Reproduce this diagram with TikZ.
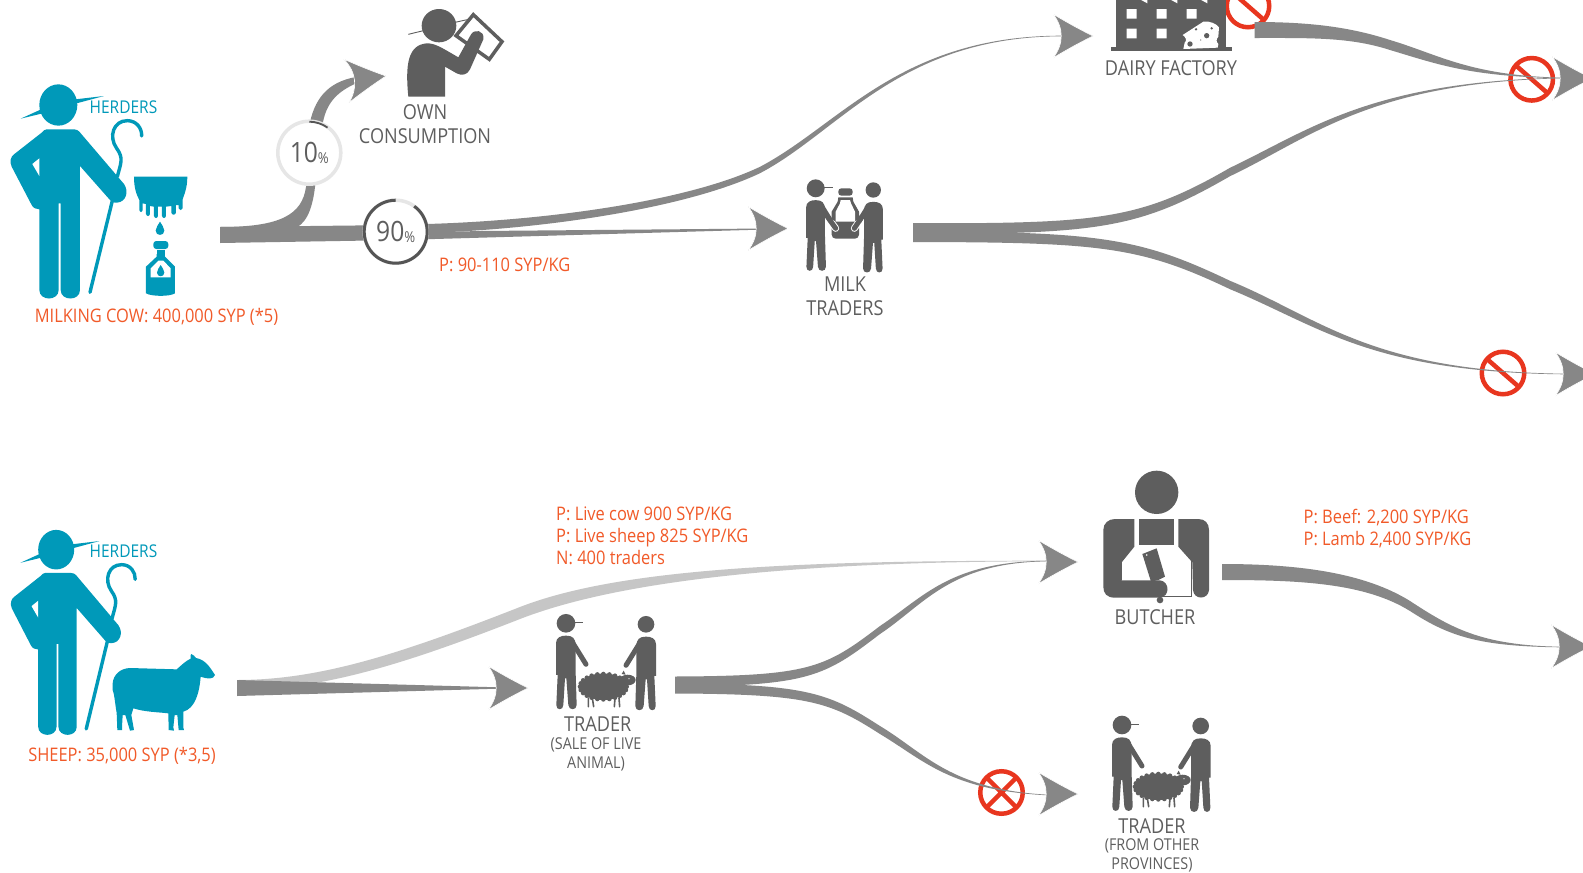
\documentclass[tikz,border=0pt]{standalone}
\usepackage{fontspec}
\setmainfont[FakeStretch=0.88]{Open Sans}
\usetikzlibrary{calc}
\definecolor{flowgray}{HTML}{878787}
\definecolor{lightflow}{HTML}{C6C6C6}
\definecolor{icongray}{HTML}{5E5E5E}
\definecolor{teal}{HTML}{0099B9}
\definecolor{orangetxt}{HTML}{F15A29}
\definecolor{redsign}{HTML}{E8361F}
\definecolor{ringlight}{HTML}{E6E6E6}
\definecolor{ringdark}{HTML}{555555}
\tikzset{
 flowfill/.style={fill=flowgray},
 lbl/.style={text=icongray,font=\fontsize{20.6}{24}\selectfont,align=center,inner sep=0pt},
 sublbl/.style={text=icongray,font=\fontsize{16.3}{19}\selectfont,align=center,inner sep=0pt},
 price/.style={text=orangetxt,font=\fontsize{18.7}{22}\selectfont,align=left,inner sep=0pt},
 herd/.style={text=teal,font=\fontsize{17.6}{20}\selectfont,inner sep=0pt},
 pct/.style={circle,fill=white,minimum size=63pt,inner sep=0pt,line width=3.5pt,text=icongray},
 signring/.style={draw=redsign,line width=4.5pt},
}
% tapered band, two segments: start, c1, c2, mid, c3, c4, end, half width at start, half width at mid
\newcommand\flow[9]{\fill[flowfill] ($#1+(0,-#8)$) .. controls ($#2+(0,-#8)$) and ($#3+(0,-#9)$) .. ($#4+(0,-#9)$) .. controls ($#5+(0,-#9)$) and ($#6+(0,-0.4)$) .. ($#7+(0,-0.3)$) -- ($#7+(0,0.3)$) .. controls ($#6+(0,0.4)$) and ($#5+(0,#9)$) .. ($#4+(0,#9)$) .. controls ($#3+(0,#9)$) and ($#2+(0,#8)$) .. ($#1+(0,#8)$) -- cycle;}
\newcommand\headtip[3]{\coordinate (#1) at (#2);
 \begin{scope}[shift={(#2)},rotate=#3]
 \fill[flowgray,draw=white,line width=.6pt] (0,0) .. controls (-18,-9) and (-30,-16) .. (-40,-22) .. controls (-29,-8) and (-29,8) .. (-40,22) .. controls (-30,16) and (-18,9) .. (0,0) -- cycle;
 \end{scope}}
\newcommand\nosign[2]{\node[circle,signring,minimum size=42.5pt,inner sep=0pt] (#1) at (#2) {};
 \draw[redsign,line width=4.5pt] ($(#1)+(-16,-14)$) -- ($(#1)+(16,14)$);}
\newcommand\xsign[2]{\node[circle,signring,minimum size=42.5pt,inner sep=0pt] (#1) at (#2) {};
 \draw[redsign,line width=4.5pt] ($(#1)+(-15,-15)$) -- ($(#1)+(15,15)$) ($(#1)+(15,-15)$) -- ($(#1)+(-15,15)$);}
\newcommand\drop{\fill (0,-20) .. controls (5,-10) and (13,-3) .. (13,7) .. controls (13,24) and (-13,24) .. (-13,7) .. controls (-13,-3) and (-5,-10) .. (0,-20) -- cycle;}
% herder, in coordinates three times the size of the drawing
\newcommand\herder{
 \begin{scope}[fill=teal]
 \fill (175,135) ellipse [x radius=57,y radius=62];
 \fill (62,176) -- (128,146) -- (128,160) -- cycle;
 \fill (226,118) -- (312,108) -- (226,131) -- cycle;
 \fill (140,208) -- (222,208) .. controls (230,208) and (234,211) .. (238,215) -- (372,372) .. controls (388,395) and (378,427) .. (350,428) .. controls (338,428) and (335,425) .. (330,420) -- (240,318) -- (240,690) .. controls (240,724) and (182,724) .. (182,690) -- (182,430) -- (176,430) -- (176,690) .. controls (176,724) and (118,724) .. (118,690) -- (118,448) -- (105,445) .. controls (100,443) and (97,439) .. (95,435) -- (35,320) .. controls (28,305) and (32,290) .. (42,283) -- (125,218) .. controls (130,212) and (135,208) .. (140,208) -- cycle;
 \fill[white] (97,312) -- (118,295) -- (118,348) -- cycle;
 \draw[teal,line width=3.4pt,line cap=round] (270,697) -- (340,410);
 \draw[teal,line width=3.4pt,line cap=round] (352,350) .. controls (362,310) and (372,295) .. (350,265) .. controls (325,230) and (340,182) .. (382,182) .. controls (410,182) and (426,205) .. (425,228);
 \end{scope}}
\newcommand\man[3]{% xscale, yscale, head radius
 \begin{scope}[xscale=#1,yscale=#2,fill=icongray]
 \fill (0,0) circle (#3);
 \fill (-30,155) -- (-30,60) .. controls (-30,42) and (-15,37) .. (0,37) .. controls (20,37) and (28,45) .. (29,65) -- (29,150) -- (32,245) .. controls (32,262) and (8,262) .. (7,245) -- (1,165) -- (-3,165) -- (-8,245) .. controls (-8,262) and (-30,262) .. (-29,245) -- (-25,155) -- cycle;
 \draw[icongray,line width=5pt,line cap=round] (18,55) -- (60,123);
 \end{scope}}
\newcommand\capbrim{\draw[icongray,line width=.8pt] (0,-1) -- (17,-1);}
\newcommand\woolly{
 \begin{scope}[scale=1/3,fill=icongray]
 \fill (-5,0) ellipse [x radius=70,y radius=40];
 \foreach \a in {0,15,...,345} {\fill ({-5+70*cos(\a)},{38*sin(\a)}) circle (7);}
 \fill (68,-20) ellipse [x radius=24,y radius=16];
 \fill (50,-38) -- (56,-48) -- (62,-36) -- cycle;
 \draw[icongray,line width=1.6pt,line cap=round] (-50,34) -- (-50,60) (-38,34) -- (-34,60) (30,34) -- (28,60) (42,34) -- (44,60);
 \fill[white] (72,-24) circle (2);
 \end{scope}}
\begin{document}
\begin{tikzpicture}[x=1pt,y=-1pt]
\useasboundingbox (0,0) rectangle (1583,873);
\clip (0,0) rectangle (1583,873);
\fill[white] (0,0) rectangle (1583,873);

%% ---- HERDER 1
\begin{scope}[shift={(0,60)},scale=1/3]
 \herder
 \begin{scope}[fill=teal]
 \fill (402,350) -- (562,350) .. controls (562,385) and (552,405) .. (548,418) -- (548,445) .. controls (546,452) and (538,452) .. (536,445) -- (536,435) -- (528,435) -- (528,458) .. controls (526,466) and (516,466) .. (514,458) -- (514,438) -- (498,440) -- (498,468) .. controls (496,476) and (488,476) .. (486,468) -- (486,440) -- (474,440) -- (474,468) .. controls (472,476) and (464,476) .. (462,468) -- (462,440) -- (450,438) -- (450,462) .. controls (448,470) and (440,470) .. (438,462) -- (438,432) -- (428,430) -- (428,450) .. controls (426,458) and (420,458) .. (418,450) -- (418,420) .. controls (410,405) and (402,385) .. (402,350) -- cycle;
 \begin{scope}[shift={(480,505)}]\drop\end{scope}
 \fill[rounded corners=3pt] (460,543) rectangle (505,567);
 \fill (470,570) rectangle (495,582);
 \fill (470,582) -- (495,582) -- (495,590) -- (525,620) -- (525,700) .. controls (510,710) and (455,710) .. (438,700) -- (438,620) -- (470,590) -- cycle;
 \fill[white] (452,652) -- (512,652) -- (512,625) -- (490,602) -- (475,602) -- (452,625) -- cycle;
 \begin{scope}[shift={(482,632)},scale=.85]\drop\end{scope}
 \end{scope}
\end{scope}

%% ---- HERDER 2
\begin{scope}[shift={(0.9,506.6)},xscale=.316,yscale=.319]
 \herder
\end{scope}
% blue sheep
\begin{scope}[shift={(100,640)},scale=1/3]
 \fill[teal] (38,130) .. controls (40,105) and (60,85) .. (90,84) -- (230,88) .. controls (245,75) and (258,62) .. (272,56) .. controls (270,48) and (272,42) .. (274,42) .. controls (280,44) and (285,50) .. (288,54) .. controls (318,58) and (335,90) .. (345,105) .. controls (340,118) and (325,118) .. (302,110) .. controls (298,160) and (285,205) .. (250,215) -- (250,262) -- (252,270) -- (236,270) -- (232,225) -- (224,225) -- (220,262) -- (222,272) -- (206,270) -- (205,220) .. controls (170,216) and (135,216) .. (100,205) -- (94,225) -- (102,270) -- (90,272) -- (76,225) -- (68,225) -- (66,262) -- (66,270) -- (52,270) -- (50,218) .. controls (46,200) and (44,165) .. (38,150) -- cycle;
\end{scope}

%% ---- RED SIGNS (beneath the flows)
\nosign{sa}{1248,6}
\nosign{sb}{1531.7,79.3}
\nosign{sc}{1503,373}
\xsign{sd}{1001.5,792.5}

%% ---- END POINTS
\coordinate (m0) at (220,235);
\coordinate (m2) at (400,229);
\coordinate (endDairy) at (1062,36);
\coordinate (t1) at (913,228.5);
\coordinate (t2) at (913,236.7);
\coordinate (endTop) at (1562,78);
\coordinate (endLow) at (1565,374);
\coordinate (d0) at (1254.5,30);
\coordinate (s1) at (237,685);
\coordinate (endB) at (1048,561);
\coordinate (endC) at (1048,795);
\coordinate (u1) at (675,681.5);
\coordinate (u2) at (675,688.5);
\coordinate (b0) at (1222,572);
\coordinate (endR) at (1561,647);

%% ---- MILK FLOWS
\fill[flowfill] (220,227) -- (400,225) -- (400,240) -- (220,243) -- cycle;
\fill[flowfill] (220,227) .. controls (280,227) and (302,215) .. (306,187) -- (310,122) .. controls (316,96) and (330,80) .. (362,76) -- (362,81) .. controls (338,90) and (327,102) .. (323,122) -- (315,187) .. controls (312,212) and (305,225) .. (293,229) -- (220,229) -- cycle;
\fill[flowfill] (400,233) -- (480,231) -- (765,228.5) -- (765,229.5) -- (400,240) -- cycle;
\flow{(m2)}{(520,228)}{(680,208)}{(760,170)}{(840,128)}{(900,36)}{(endDairy)}{4.5}{3.2}
\flow{(t1)}{(1100,229)}{(1140,224)}{(1230,172)}{(1310,134)}{(1370,82)}{(endTop)}{5.3}{4.2}
\flow{(t2)}{(1100,237)}{(1140,242)}{(1230,285)}{(1320,322)}{(1370,372)}{(endLow)}{5.3}{4.2}
\flow{(d0)}{(1310,30)}{(1350,32)}{(1390,45)}{(1440,60)}{(1470,76)}{(endTop)}{8}{5}

%% ---- ANIMAL FLOWS
\begin{scope}[flowfill/.style={fill=lightflow}]
\flow{(s1)}{(320,685)}{(400,660)}{(520,613)}{(620,574)}{(800,561)}{(endB)}{5}{6}
\end{scope}
\fill[flowfill] (237,680) -- (505,687.5) -- (505,688.5) -- (237,696) -- cycle;
\flow{(u1)}{(810,681)}{(825,672)}{(880,630)}{(925,600)}{(950,562)}{(endB)}{5}{4}
\flow{(u2)}{(810,689)}{(830,698)}{(880,730)}{(925,757)}{(950,790)}{(endC)}{5}{4}
\flow{(b0)}{(1300,572)}{(1365,578)}{(1410,606)}{(1450,632)}{(1480,646)}{(endR)}{8}{5}

%% ---- ARROW HEADS
\headtip{a1}{386,76}{7}
\headtip{a2}{1093,36}{0}
\headtip{a3}{788,228.5}{0}
\headtip{a4}{1592,78.5}{0}
\headtip{a5}{1595,374}{0}
\headtip{a6}{528,688}{0}
\headtip{a7}{1078,562}{0}
\headtip{a8}{1078,794}{0}
\headtip{a9}{1591,646.5}{0}

%% ---- PERCENT RINGS (y axis points down, so angles run clockwise on the page)
\node[pct,draw=ringlight] (p10) at (309.3,152.7) {\fontsize{28}{28}\selectfont 10\fontsize{15}{15}\selectfont\raisebox{-.5pt}{\%}};
\draw[ringdark,line width=1.8pt] ($(p10)+(0,-31)$) arc [start angle=-90,end angle=-54,radius=31];
\node[pct,draw=ringlight] (p90) at (395.7,231.7) {\fontsize{28}{28}\selectfont 90\fontsize{15}{15}\selectfont\raisebox{-.5pt}{\%}};
\draw[ringdark,line width=3pt] ($(p90)+({31.5*cos(54)},{-31.5*sin(54)})$) arc [start angle=-54,end angle=270,radius=31.5];

%% ---- OWN CONSUMPTION ICON
\begin{scope}[shift={(390,0)},scale=1/3]
 \fill[icongray] (147,77) ellipse [x radius=52,y radius=50];
 \draw[icongray,line width=.9pt] (55,103) -- (100,92) (195,67) -- (250,55);
 \draw[icongray,line width=3.5pt,line join=miter,fill=white] (250,44) -- (336,125) -- (298,178) -- (198,107) -- cycle;
 \fill[icongray] (55,290) .. controls (45,190) and (55,135) .. (110,130) .. controls (135,130) and (150,140) .. (205,172) -- (242,105) .. controls (252,85) and (285,90) .. (280,118) -- (240,208) .. controls (232,225) and (215,228) .. (200,220) -- (165,200) -- (165,290) -- cycle;
\end{scope}
\node[lbl] (own) at (425,124) {OWN\\CONSUMPTION};

%% ---- DAIRY FACTORY ICON
\begin{scope}[shift={(1090,0)},scale=1/3]
 \fill[icongray] (78,-10) rectangle (408,142);
 \fill[icongray] (62,140) rectangle (425,153);
 \fill[white] (150,-2) -- (172,10) -- (172,-2) -- cycle (240,-2) -- (262,10) -- (262,-2) -- cycle (330,-2) -- (352,10) -- (352,-2) -- cycle;
 \fill[white] (110,27) rectangle (140,56) (200,27) rectangle (230,56) (290,27) rectangle (320,56) (110,86) rectangle (140,115) (200,86) rectangle (230,115);
 \fill[white] (278,105) -- (340,65) .. controls (360,62) and (380,72) .. (387,82) -- (385,110) .. controls (378,118) and (378,125) .. (385,132) -- (383,143) -- (280,147) -- (284,128) .. controls (292,122) and (288,112) .. (278,105) -- cycle;
 \fill[icongray] (300,132) circle (8) (350,107) circle (8) (318,88) circle (4) (365,85) circle (4) (332,120) circle (2);
\end{scope}
\node[lbl] (dairy) at (1171,68) {DAIRY FACTORY};

%% ---- MILK TRADERS ICON
\begin{scope}[shift={(815.7,188.3)}]\man{.32}{.32}{28}\capbrim\end{scope}
\begin{scope}[shift={(873.3,190)}]\man{-.32}{.32}{24}\end{scope}
\begin{scope}[shift={(790,170)},scale=1/3]
 \fill[icongray,rounded corners=3pt] (145,55) rectangle (188,77);
 \fill[icongray] (145,82) -- (188,82) -- (190,95) -- (207,125) -- (207,165) -- (125,165) -- (125,125) -- (143,95) -- cycle;
 \fill[white] (152,90) -- (180,90) -- (183,100) -- (195,125) -- (195,155) -- (137,155) -- (137,125) -- (150,100) -- cycle;
 \fill[icongray,rounded corners=4pt] (125,160) rectangle (207,206);
 \draw[white,line width=7pt,line cap=round] (126,160) -- (137,175) (204,160) -- (193,175);
 \draw[icongray,line width=5pt,line cap=round] (112,140) -- (137,175) (216,140) -- (193,175);
\end{scope}
\node[lbl] (milk) at (845,296) {MILK\\TRADERS};

%% ---- TRADER 1 ICON
\begin{scope}[shift={(566,623.3)}]\man{1/3}{1/3}{28}\capbrim\end{scope}
\begin{scope}[shift={(646,624.3)}]\man{-1/3}{1/3}{25}\end{scope}
\begin{scope}[shift={(605,686.7)}]\woolly\end{scope}
\node[lbl] (trader) at (597.7,724) {TRADER};
\node[sublbl] (sale) at (596,754.5) {(SALE OF LIVE\\ANIMAL)};

%% ---- TRADER 2 ICON
\begin{scope}[shift={(1122,725)}]\man{1/3}{1/3}{28}\capbrim\end{scope}
\begin{scope}[shift={(1200.7,726)}]\man{-1/3}{1/3}{25}\end{scope}
\begin{scope}[shift={(1160,786.7)}]\woolly\end{scope}
\node[lbl] (trader2) at (1152,826) {TRADER};
\node[sublbl] (prov) at (1152,855) {(FROM OTHER\\PROVINCES)};

%% ---- BUTCHER ICON
\begin{scope}[shift={(1095,465)},scale=1/3,fill=icongray]
 \fill (185,82) circle (65);
 \fill (132,162) rectangle (238,240);
 \fill (60,162) -- (118,162) -- (118,245) -- (80,292) -- (80,346) -- (195,346) .. controls (225,350) and (225,395) .. (195,398) -- (60,398) .. controls (35,398) and (25,385) .. (25,365) -- (25,195) .. controls (25,175) and (40,162) .. (60,162) -- cycle;
 \fill (250,162) -- (310,162) .. controls (330,162) and (342,175) .. (342,195) -- (342,375) .. controls (340,405) and (296,405) .. (294,375) -- (292,292) -- (250,245) -- cycle;
 \fill (142,267) -- (185,250) -- (210,335) -- (190,345) -- (168,350) -- cycle;
 \fill[white] (155,270) circle (2.5);
 \fill (195,405) circle (10);
 \draw[icongray,line width=.5pt] (80,240) -- (80,346) (290,235) -- (290,395) -- (205,395);
\end{scope}
\node[lbl] (butcher) at (1155,617) {BUTCHER};

%% ---- TEXTS
\node[herd] (h1) at (123.5,107) {HERDERS};
\node[herd] (h2) at (123.5,551.5) {HERDERS};
\node[price] (p1) at (156.5,317) {MILKING COW: 400,000 SYP (*5)};
\node[price,anchor=west] (p2) at (439,264.5) {P: 90-110 SYP/KG};
\node[price] (p3) at (122,756) {SHEEP: 35,000 SYP (*3,5)};
\node[price,anchor=west] (p4) at (556,536) {P: Live cow 900 SYP/KG\\P: Live sheep 825 SYP/KG\\N: 400 traders};
\node[price,anchor=west] (p5) at (1303.4,528.5) {P: Beef: 2,200 SYP/KG\\P: Lamb 2,400 SYP/KG};
\end{tikzpicture}
\end{document}
